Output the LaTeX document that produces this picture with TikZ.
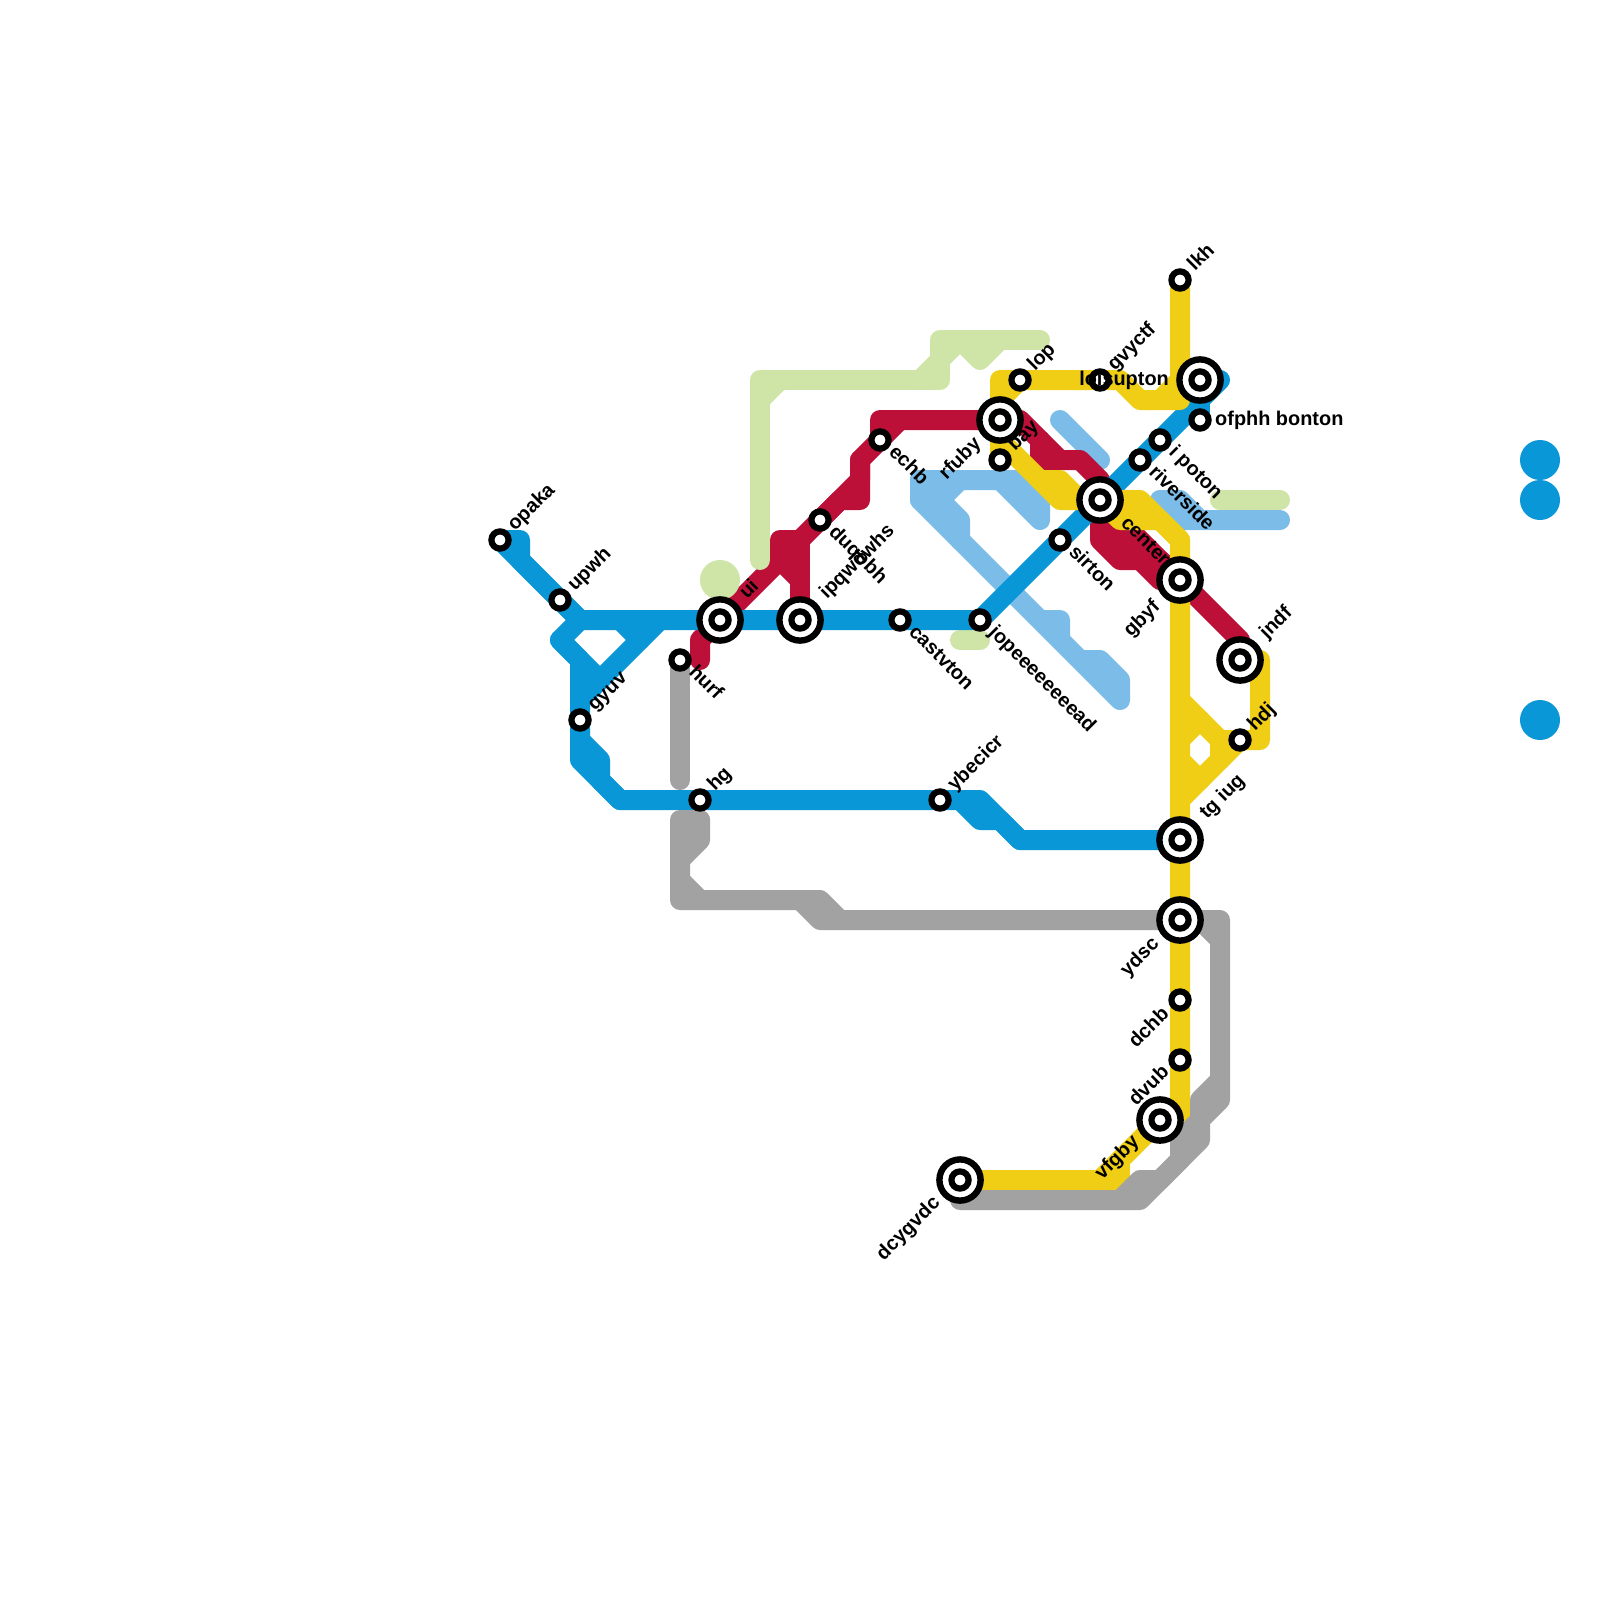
\documentclass[tikz,border=0pt]{standalone}
\usepackage{fontspec}
\setmainfont{Liberation Sans}[BoldFont={Liberation Sans Bold}]
\definecolor{mblue}{HTML}{0A97D8}
\definecolor{mred}{HTML}{BD1038}
\definecolor{myellow}{HTML}{F0CE15}
\definecolor{mgreen}{HTML}{CFE5A7}
\definecolor{mlblue}{HTML}{7BBDE8}
\definecolor{mgrey}{HTML}{A2A2A2}
\tikzset{
  metro/.style={line width=20pt,line cap=round,line join=round},
  smallst/.style={circle,draw=black,fill=white,line width=6.2pt,outer sep=0pt,minimum size=17.2pt,inner sep=0pt},
  bigst/.style={circle,draw=black,fill=white,line width=6.4pt,outer sep=0pt,minimum size=41.2pt,inner sep=0pt},
  lab/.style={inner sep=0pt,text=black,font=\fontsize{19.9}{22}\selectfont\bfseries},
  ur/.style={lab,rotate=45,anchor=base west},
  dr/.style={lab,rotate=-45,anchor=base west},
  dl/.style={lab,rotate=45,anchor=base east},
}
\newcommand{\smallstation}[1]{\node[smallst] (#1) at (p-#1) {};}
\newcommand{\bigstation}[1]{\node[bigst] (#1) at (p-#1) {};\node[smallst] (#1-core) at (p-#1) {};}
\newcommand{\lbl}[5]{\node[#1] (l-#2) at ([shift={(#3,#4)}]p-#2) {#5};}
\begin{document}
\begin{tikzpicture}[x=1pt,y=-1pt]
\useasboundingbox (0,0) rectangle (1600,1600);
\fill[white] (0,0) rectangle (1600,1600);
\foreach \n/\x/\y in {opaka/500/540,upwh/560/600,gyuv/580/720,hurf/680/660,ui/720/620,ipq/800/620,
  duq/820/520,echb/880/440,castvton/900/620,jopee/980/620,rfuby/1000/420,bay/1000/460,lop/1020/380,
  gvyctf/1100/380,loi/1200/380,ofphh/1200/420,ipoton/1160/440,riverside/1140/460,center/1100/500,
  sirton/1060/540,lkh/1180/280,gbyf/1180/580,jndf/1240/660,hdj/1240/740,tgiug/1180/840,ydsc/1180/920,
  dchb/1180/1000,dvub/1180/1060,vfgby/1160/1120,dcygvdc/960/1180,hg/700/800,ybecicr/940/800}
  {\coordinate (p-\n) at (\x,\y);}
% light blue
\draw[metro,mlblue] (920,480)--(1000,480)--(1040,520)--(1040,500)--(1020,480)--(1000,480);
\draw[metro,mlblue] (920,480)--(920,500)--(1040,620)--(1060,640)--(1120,700)--(1120,680)--(1100,660)--(1080,660)--(1060,640)--(1060,620)--(1040,620);
\draw[metro,mlblue] (920,480)--(960,520)--(960,540);
\draw[metro,mlblue] (920,500)--(940,500)--(960,480);
\draw[metro,mlblue] (1060,420)--(1100,460);
\draw[metro,mlblue] (1280,520)--(1180,520)--(1160,500)--(1180,500)--(1200,520);
% red
\draw[metro,mred] (700,660)--(700,640)--(p-ui)--(780,560)--(p-duq)--(860,480)--(860,460)--(p-echb)--(880,420)--(p-rfuby)--(1020,420)--(1060,460)--(1080,460)--(1100,480)--(p-center);
\draw[metro,mred] (p-duq)--(840,500)--(860,500)--(860,460);
\draw[metro,mred] (p-echb)--(900,420);
\draw[metro,mred] (780,560)--(780,540)--(800,540)--(p-ipq);
\draw[metro,mred] (780,560)--(800,580);
\draw[metro,mred] (1040,440)--(1040,460)--(1060,460);
\draw[metro,mred] (p-center)--(p-gbyf)--(1240,640)--(p-jndf);
\draw[metro,mred] (p-center)--(1100,540)--(1120,560)--(1140,560)--(1160,580)--(p-gbyf);
\draw[metro,mred] (1100,520)--(1140,560)--(1160,560)--(p-gbyf);
% light green
\fill[mgreen] (720,580) circle (20pt);
\draw[metro,mgreen] (760,560)--(760,380)--(940,380)--(940,340)--(1040,340);
\draw[metro,mgreen] (760,400)--(780,380);
\draw[metro,mgreen] (920,380)--(960,340);
\draw[metro,mgreen] (960,340)--(980,360)--(1000,340);
\draw[metro,mgreen] (960,640)--(980,640);
\draw[metro,mgreen] (1220,500)--(1280,500);
% blue
\draw[metro,mblue] (p-opaka)--(520,540)--(520,560)--(580,620);
\draw[metro,mblue] (p-opaka)--(p-upwh)--(580,620)--(p-ui)--(p-ipq)--(p-castvton)--(p-jopee)--(p-sirton)--(p-center)--(p-riverside)--(p-ipoton)--(1220,380);
\draw[metro,mblue] (1200,400)--(p-ofphh);
\draw[metro,mblue] (580,620)--(560,640)--(580,660)--(p-gyuv)--(580,760)--(620,800)--(p-hg)--(p-ybecicr)--(980,800)--(1020,840)--(p-tgiug);
\draw[metro,mblue] (560,640)--(600,680);
\draw[metro,mblue] (660,620)--(580,700);
\draw[metro,mblue] (620,620)--(640,640);
\draw[metro,mblue] (580,740)--(600,760)--(600,780)--(620,800);
\draw[metro,mblue] (960,800)--(980,820)--(1000,820)--(1020,840);
\fill[mblue] (1540,460) circle (20pt);
\fill[mblue] (1540,500) circle (20pt);
\fill[mblue] (1540,720) circle (20pt);
% yellow
\draw[metro,myellow] (p-lkh)--(1180,400)--(1140,400)--(1120,380)--(p-gvyctf)--(p-lop)--(1000,380)--(p-bay);
\draw[metro,myellow] (1180,380)--(1160,400);
\draw[metro,myellow] (p-lop)--(1000,400);
\draw[metro,myellow] (1000,440)--(1040,480)--(1060,480)--(1080,500)--(p-center);
\draw[metro,myellow] (1040,480)--(1060,500)--(p-center);
\draw[metro,myellow] (p-center)--(1140,500)--(1180,540)--(p-gbyf)--(p-tgiug)--(p-ydsc)--(p-dchb)--(p-dvub)--(1180,1120)--(p-vfgby)--(1100,1180)--(p-dcygvdc);
\draw[metro,myellow] (p-center)--(1120,520)--(1160,520)--(1180,540);
\draw[metro,myellow] (1120,1180)--(1120,1160);
\draw[metro,myellow] (1100,1180)--(1120,1180);
\draw[metro,myellow] (1180,700)--(1220,740)--(p-hdj)--(1260,740)--(1260,660)--(p-jndf);
\draw[metro,myellow] (p-hdj)--(1180,800);
\draw[metro,myellow] (1180,740)--(1200,720);
\draw[metro,myellow] (1180,760)--(1200,780);
\draw[metro,myellow] (1220,740)--(1220,760);
% grey
\draw[metro,mgrey] (p-hurf)--(680,780);
\draw[metro,mgrey] (700,820)--(680,820)--(680,900)--(820,900)--(840,920)--(p-ydsc)--(1220,920)--(1220,1100)--(1200,1120)--(1200,1140)--(1140,1200)--(960,1200);
\draw[metro,mgrey] (700,820)--(700,840)--(680,860);
\draw[metro,mgrey] (680,880)--(700,900);
\draw[metro,mgrey] (800,900)--(820,920)--(840,920);
\draw[metro,mgrey] (1200,920)--(1220,940);
\draw[metro,mgrey] (1220,1080)--(1200,1100)--(1200,1120)--(1180,1140)--(1180,1160)--(1160,1180)--(1140,1180)--(1120,1200);
% stations
\foreach \s in {opaka,upwh,gyuv,hurf,duq,echb,castvton,jopee,bay,lop,gvyctf,ofphh,ipoton,riverside,sirton,lkh,hdj,dchb,dvub,hg,ybecicr}
  {\smallstation{\s}}
\foreach \s in {ui,ipq,rfuby,loi,center,gbyf,jndf,tgiug,ydsc,vfgby,dcygvdc}
  {\bigstation{\s}}
% labels
\lbl{ur}{opaka}{15}{-8}{opaka}
\lbl{ur}{upwh}{15}{-8}{upwh}
\lbl{ur}{gyuv}{15}{-8}{gyuv}
\lbl{ur}{hg}{15}{-8}{hg}
\lbl{ur}{ybecicr}{15}{-8}{ybecicr}
\lbl{ur}{bay}{15}{-8}{bay}
\lbl{ur}{lop}{15}{-8}{lop}
\lbl{ur}{gvyctf}{15}{-8}{gvyctf}
\lbl{ur}{lkh}{15}{-8}{lkh}
\lbl{ur}{hdj}{15}{-8}{hdj}
\lbl{ur}{ui}{27}{-20}{ui}
\lbl{ur}{ipq}{27}{-20}{ipqwdwhs}
\lbl{ur}{jndf}{27}{-20}{jndf}
\lbl{ur}{tgiug}{27}{-20}{tg iug}
\lbl{dr}{hurf}{8}{13}{hurf}
\lbl{dr}{duq}{8}{13}{duqobh}
\lbl{dr}{echb}{8}{13}{echb}
\lbl{dr}{castvton}{8}{13}{castvton}
\lbl{dr}{jopee}{8}{13}{jopeeeeeeeead}
\lbl{dr}{sirton}{8}{13}{sirton}
\lbl{dr}{riverside}{8}{13}{riverside}
\lbl{dr}{ipoton}{8}{13}{i poton}
\lbl{dr}{center}{20}{24}{center}
\lbl{dl}{rfuby}{-18}{25}{rfuby}
\lbl{dl}{gbyf}{-19}{28}{gbyf}
\lbl{dl}{ydsc}{-20}{25}{ydsc}
\lbl{dl}{dchb}{-10}{15}{dchb}
\lbl{dl}{dvub}{-10}{13}{dvub}
\lbl{dl}{vfgby}{-20}{23}{vfgby}
\lbl{dl}{dcygvdc}{-19}{24}{dcygvdc}
\node[lab,anchor=base west] (l-ofphh) at ([shift={(15,5)}]p-ofphh) {ofphh bonton};
\node[lab,anchor=base east] (l-loi) at ([shift={(-31,5)}]p-loi) {loisupton};
\end{tikzpicture}
\end{document}
